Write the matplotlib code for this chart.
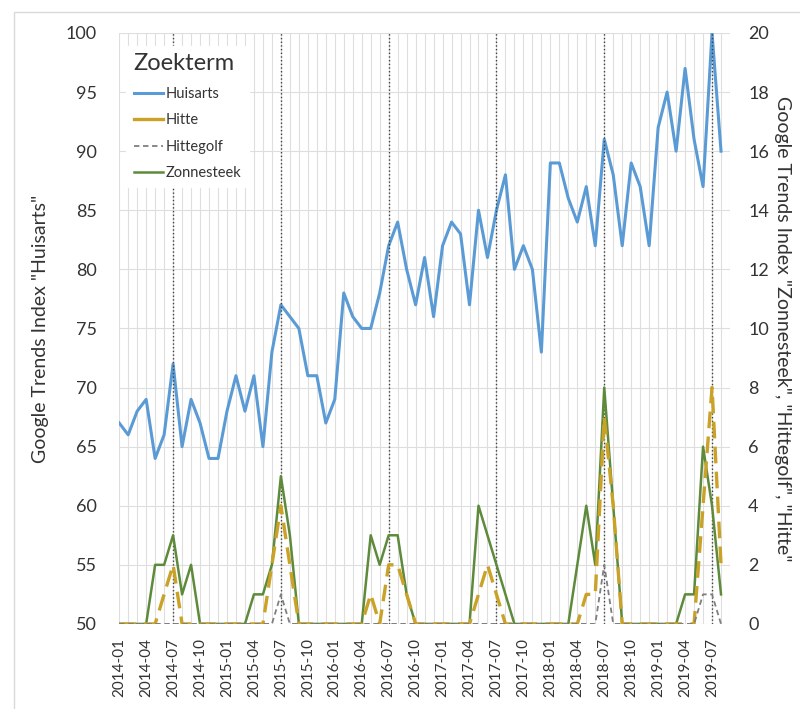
import matplotlib
matplotlib.use("Agg")
import matplotlib.pyplot as plt
from matplotlib.lines import Line2D
from matplotlib.patches import Rectangle

plt.rcParams["font.family"] = ["Lato", "DejaVu Sans"]

# monthly categories 2014-01 .. 2019-08
months = [f"{y}-{m:02d}" for y in range(2014, 2020) for m in range(1, 13)][:68]

huisarts = [
    67, 66, 68, 69, 64, 66, 72, 65, 69, 67, 64, 64,
    68, 71, 68, 71, 65, 73, 77, 76, 75, 71, 71, 67,
    69, 78, 76, 75, 75, 78, 82, 84, 80, 77, 81, 76,
    82, 84, 83, 77, 85, 81, 85, 88, 80, 82, 80, 73,
    89, 89, 86, 84, 87, 82, 91, 88, 82, 89, 87, 82,
    92, 95, 90, 97, 91, 87, 100, 90,
]
hitte = [
    0, 0, 0, 0, 0, 1, 2, 0, 0, 0, 0, 0,
    0, 0, 0, 0, 0, 2, 4, 2, 0, 0, 0, 0,
    0, 0, 0, 0, 1, 0, 2, 2, 1, 0, 0, 0,
    0, 0, 0, 0, 1, 2, 1, 0, 0, 0, 0, 0,
    0, 0, 0, 0, 1, 1, 7, 4, 0, 0, 0, 0,
    0, 0, 0, 0, 0, 4, 8, 2,
]
hittegolf = [
    0, 0, 0, 0, 0, 0, 0, 0, 0, 0, 0, 0,
    0, 0, 0, 0, 0, 0, 1, 0, 0, 0, 0, 0,
    0, 0, 0, 0, 0, 0, 0, 0, 0, 0, 0, 0,
    0, 0, 0, 0, 0, 0, 0, 0, 0, 0, 0, 0,
    0, 0, 0, 0, 0, 0, 2, 0, 0, 0, 0, 0,
    0, 0, 0, 0, 0, 1, 1, 0,
]
zonnesteek = [
    0, 0, 0, 0, 2, 2, 3, 1, 2, 0, 0, 0,
    0, 0, 0, 1, 1, 2, 5, 3, 0, 0, 0, 0,
    0, 0, 0, 0, 3, 2, 3, 3, 1, 0, 0, 0,
    0, 0, 0, 0, 4, 3, 2, 1, 0, 0, 0, 0,
    0, 0, 0, 2, 4, 2, 8, 4, 0, 0, 0, 0,
    0, 0, 0, 1, 1, 6, 4, 1,
]
july_marks = ["2014-07", "2015-07", "2016-07", "2017-07", "2018-07", "2019-07"]

c_blue = "#5b9bd5"
c_gold = "#c9a227"
c_grey = "#7f7f7f"
c_green = "#5e8a3c"
c_text = "#333333"
c_grid = "#dedede"

x = list(range(len(months)))

fig = plt.figure(figsize=(8, 7.09), dpi=100)
ax = fig.add_axes([0.149, 0.12, 0.7635, 0.8335])
ax2 = ax.twinx()

# outer chart frame
fig.patches.append(Rectangle((14 / 800, -0.1), 1.0, 1.1 - 12 / 709, transform=fig.transFigure,
                             fill=False, edgecolor="#d9d9d9", linewidth=1.0))

ax.plot(x, huisarts, color=c_blue, linewidth=2.2, zorder=3)
ax.set_ylim(50, 100)
ax.set_yticks(range(50, 101, 5))
ax.set_xlim(0, 68)
ax.set_xticks(range(0, 68, 3))
ax.set_xticklabels(months[::3], rotation=90, fontsize=11, color=c_text)
ax.set_xticks(range(0, 69), minor=True)
ax.grid(True, which="both", axis="x", color=c_grid, linewidth=0.8)
ax.grid(True, which="major", axis="y", color=c_grid, linewidth=0.8)
ax.set_axisbelow(True)
ax.tick_params(axis="y", length=0, pad=16, labelsize=13, labelcolor=c_text)
ax.tick_params(axis="x", which="both", length=0, pad=10)
ax.set_ylabel('Google Trends Index "Huisarts"', fontsize=14, color=c_text, labelpad=12)

for m in july_marks:
    ax2.axvline(months.index(m), color="#404040", linestyle=":", linewidth=1.0, zorder=1)

ax2.plot(x, hitte, color=c_gold, linewidth=2.4, linestyle=(0, (5, 2.5)), zorder=3)
ax2.plot(x, hittegolf, color=c_grey, linewidth=1.3, linestyle=(0, (3, 2)), zorder=4)
ax2.plot(x, zonnesteek, color=c_green, linewidth=1.8, zorder=2)
ax2.set_ylim(0, 20)
ax2.set_yticks(range(0, 21, 2))
ax2.tick_params(axis="y", length=0, pad=13, labelsize=13, labelcolor=c_text)
ax2.set_ylabel('Google Trends Index "Zonnesteek", "Hittegolf", "Hitte"', fontsize=14,
               color=c_text, rotation=270, labelpad=16)

for a in (ax, ax2):
    for s in a.spines.values():
        s.set_visible(False)

handles = [
    Line2D([], [], color=c_blue, linewidth=2.2),
    Line2D([], [], color=c_gold, linewidth=2.4),
    Line2D([], [], color=c_grey, linewidth=1.3, linestyle=(0, (3, 2))),
    Line2D([], [], color=c_green, linewidth=1.8),
]
leg = ax2.legend(handles, ["Huisarts", "Hitte", "Hittegolf", "Zonnesteek"],
                 title="Zoekterm", loc="upper left", bbox_to_anchor=(0.0, 0.99),
                 fontsize=10.5, title_fontsize=17, alignment="left",
                 frameon=True, facecolor="white", edgecolor="white", framealpha=1.0,
                 fancybox=False, handlelength=2.0, handletextpad=0.2, labelspacing=0.85,
                 borderpad=0.5)
leg.set_zorder(10)
for t in leg.get_texts():
    t.set_color(c_text)
leg.get_title().set_color(c_text)

fig.savefig("out.png", dpi=100)
